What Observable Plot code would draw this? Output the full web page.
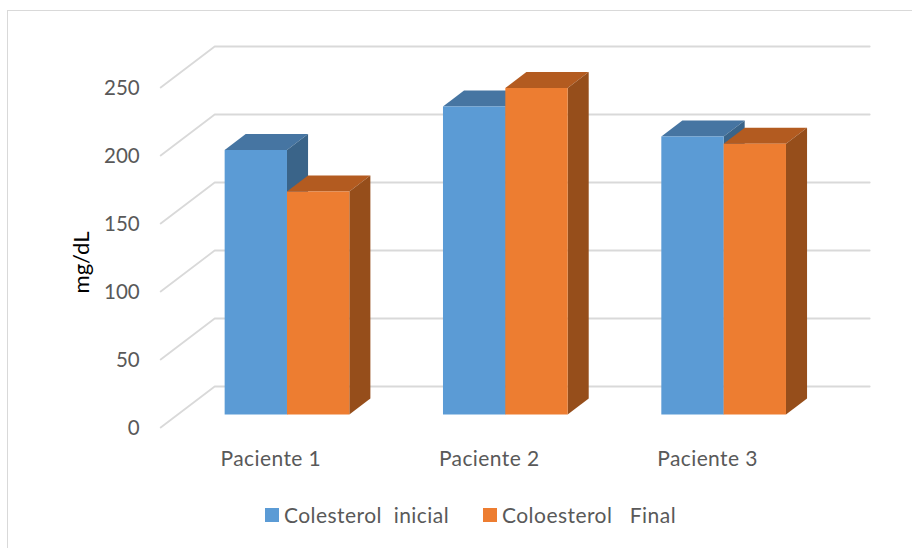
<!DOCTYPE html>
<html>
<head>
<meta charset="utf-8">
<script src="https://cdn.jsdelivr.net/npm/d3@7"></script>
<script src="https://cdn.jsdelivr.net/npm/@observablehq/plot@0.6"></script>
<style>
  html, body { margin: 0; padding: 0; background: #fff; overflow: hidden; }
  body { width: 912px; height: 548px; position: relative; font-family: Lato, sans-serif; }
  #frame { position: absolute; left: 7px; top: 10px; width: 905px; height: 538px; box-sizing: border-box;
           border-top: 1.5px solid #d9d9d9; border-left: 1.5px solid #d9d9d9; pointer-events: none; }
  #chart svg { display: block; }
  #legend { position: absolute; left: 265px; top: 498px; height: 32px; color: #595959; font-size: 21px;
            letter-spacing: 0.45px; white-space: pre; }
  #legend .sw { width: 14px; height: 14px; display: inline-block; margin-right: 5px; margin-top: 2px; }
  #legend .it { display: flex; align-items: center; position: absolute; top: 0; height: 32px; }
</style>
</head>
<body>
<div id="frame"></div>
<div id="chart"></div>
<div id="legend"></div>
<script>
const categories = ["Paciente 1", "Paciente 2", "Paciente 3"];
const colesterolInicial = [194.5, 226.5, 204.5];
const colesterolFinal = [164, 240, 199];
const yTicks = [0, 50, 100, 150, 200, 250];
const seriesNames = ["Colesterol  inicial", "Coloesterol   Final"];

const palette = [
  {front: "#5b9bd5", top: "#4675a2", side: "#3a6489"},
  {front: "#ed7d31", top: "#b35b20", side: "#964e1b"}
];

// Oblique projection of the chart's depth, in data units
const depthX = 54 / (655 / 3);
const depthY = 41 / 1.36;
const barDepthStart = 0.317;
const barDepthEnd = 0.707;
const barWidth = 0.2855;
const px = (c, d) => c + d * depthX;
const py = (v, d) => v + d * depthY;

const gridRows = yTicks.flatMap((t) => [
  {t, x: px(0, 0), y: py(t, 0)},
  {t, x: px(0, 1), y: py(t, 1)},
  {t, x: px(3, 1), y: py(t, 1)}
]);

const faces = [];
function face(id, fill, corners) {
  corners.forEach(([c, v, d]) => faces.push({id, fill, x: px(c, d), y: py(v, d)}));
}
[colesterolInicial, colesterolFinal].forEach((values, s) => {
  values.forEach((v, i) => {
    const a = i + 0.5 + (s - 1) * barWidth, b = a + barWidth;
    const d0 = barDepthStart, d1 = barDepthEnd;
    const p = palette[s];
    face(`top${s}${i}`, p.top, [[a, v, d0], [b, v, d0], [b, v, d1], [a, v, d1]]);
    face(`side${s}${i}`, p.side, [[b, 0, d0], [b, v, d0], [b, v, d1], [b, 0, d1]]);
    face(`front${s}${i}`, p.front, [[a, 0, d0], [b, 0, d0], [b, v, d0], [a, v, d0]]);
  });
});

const chart = Plot.plot({
  width: 912,
  height: 490,
  marginLeft: 160.2,
  marginRight: 96.8,
  marginTop: 87,
  marginBottom: 63,
  x: {domain: [0, 3], axis: null},
  y: {domain: [0, 250]},
  color: {type: "identity"},
  style: {fontFamily: "Lato, sans-serif", fontSize: "20px", background: "transparent", overflow: "visible"},
  marks: [
    Plot.line(gridRows, {x: "x", y: "y", z: "t", stroke: "#d9d9d9", strokeWidth: 1.8}),
    Plot.line(faces, {x: "x", y: "y", z: "id", fill: "fill", stroke: "none"}),
    Plot.axisY(yTicks, {anchor: "left", tickSize: 0, tickPadding: 21, fill: "#595959", fontSize: 20.5, label: null, dy: 1}),
    Plot.text(categories, {x: (d, i) => i + 0.5, y: () => 0, text: (d) => d, dy: 32, dx: 1, fill: "#595959", fontSize: 21}),
    Plot.text(["mg/dL"], {frameAnchor: "left", textAnchor: "middle", rotate: -90, dx: -79, dy: 5, fill: "#000", fontSize: 22})
  ]
});
document.getElementById("chart").appendChild(chart);
chart.querySelectorAll("text").forEach((t) => {
  if (/Paciente/.test(t.textContent)) t.style.letterSpacing = "0.4px";
});

const legend = document.getElementById("legend");
seriesNames.forEach((name, i) => {
  const it = document.createElement("div");
  it.className = "it";
  it.style.left = (i === 0 ? 0 : 218) + "px";
  const sw = document.createElement("span");
  sw.className = "sw";
  sw.style.background = palette[i].front;
  const tx = document.createElement("span");
  tx.textContent = name;
  it.append(sw, tx);
  legend.appendChild(it);
});
</script>
</body>
</html>
